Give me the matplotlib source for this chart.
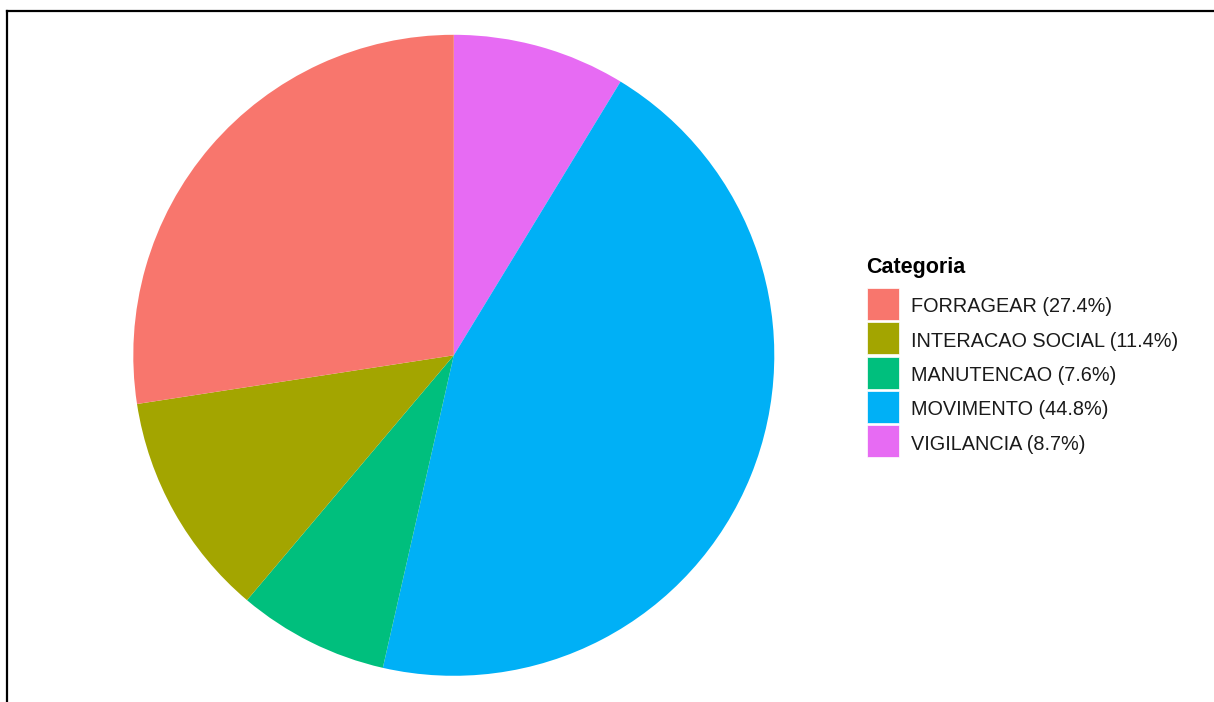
import matplotlib.pyplot as plt
from matplotlib.patches import Rectangle
from matplotlib.lines import Line2D

categories = ['FORRAGEAR', 'INTERACAO SOCIAL', 'MANUTENCAO', 'MOVIMENTO', 'VIGILANCIA']
percent = [27.4, 11.4, 7.6, 44.8, 8.7]
colors = ['#F8766D', '#A3A500', '#00BF7D', '#00B0F6', '#E76BF3']

plt.rcParams['font.family'] = ['Liberation Sans', 'DejaVu Sans']

W, H = 1214, 702
fig = plt.figure(figsize=(W / 100, H / 100), dpi=100)

# pie drawn clockwise from 12 o'clock, last category first (ggplot stacking)
cx, cy, r = 453.8, 355.3, 320.5
ax = fig.add_axes([(cx - r) / W, (H - cy - r) / H, 2 * r / W, 2 * r / H])
ax.pie(percent[::-1], colors=colors[::-1], startangle=90, counterclock=False,
       radius=1, wedgeprops={'linewidth': 0})
ax.set_xlim(-1, 1)
ax.set_ylim(-1, 1)
ax.set_aspect('equal')
ax.axis('off')

# legend
fig.text(866 / W, 1 - 268 / H, 'Categoria', fontsize=15.5, fontweight='bold',
         va='center', ha='left')
key_top = 288
key_h = 34.3
for i, (cat, p, col) in enumerate(zip(categories, percent, colors)):
    y0 = key_top + i * key_h
    fig.add_artist(Rectangle((867 / W, 1 - (y0 + 32) / H), 32 / W, 32 / H,
                             transform=fig.transFigure, facecolor=col,
                             edgecolor='white', linewidth=0.5))
    fig.text(911 / W, 1 - (y0 + 19) / H, f'{cat} ({p}%)', fontsize=14.3,
             va='center', ha='left', color='#1a1a1a')

# partial frame (top and left)
fig.add_artist(Line2D([7 / W, 1], [1 - 11 / H, 1 - 11 / H], color='black',
                      linewidth=1.6, transform=fig.transFigure))
fig.add_artist(Line2D([7 / W, 7 / W], [0, 1 - 11 / H], color='black',
                      linewidth=1.6, transform=fig.transFigure))

fig.savefig('out.png', dpi=100)
